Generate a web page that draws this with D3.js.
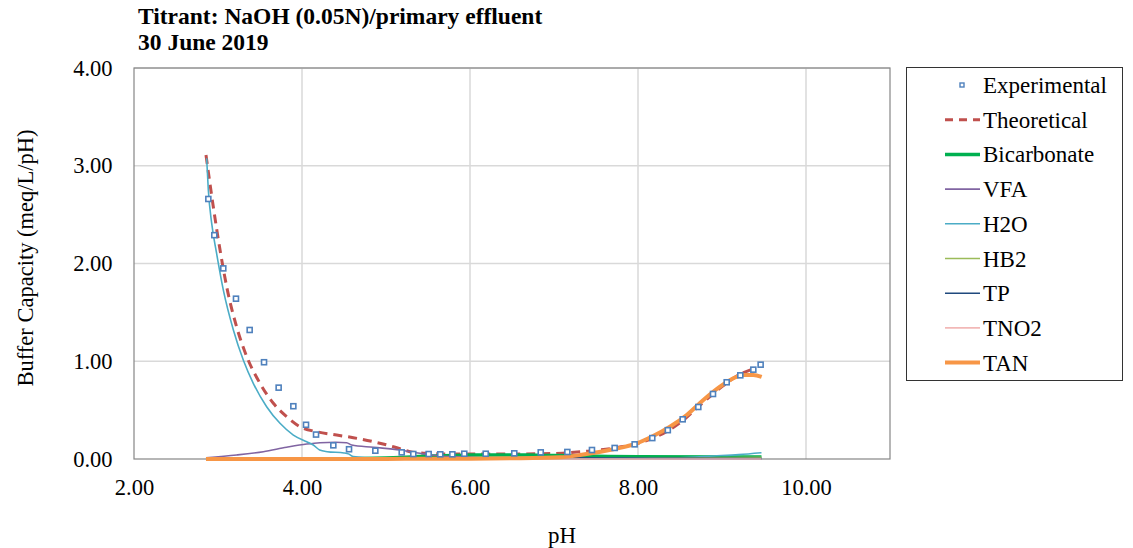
<!DOCTYPE html>
<html>
<head>
<meta charset="utf-8">
<script src="https://cdn.jsdelivr.net/npm/d3@7"></script>
<style>
  body { margin: 0; background: #fff; }
  text { font-family: "Liberation Serif", "Times New Roman", serif; }
</style>
</head>
<body>
<div id="chart"></div>
<script>
// ---- data ----
const xTicks = [2, 4, 6, 8, 10];
const yTicks = [0, 1, 2, 3, 4];
const titleLines = ["Titrant: NaOH (0.05N)/primary effluent", "30 June 2019"];

const experimental = [
  [2.885, 2.66], [2.956, 2.29], [3.063, 1.95], [3.214, 1.64], [3.377, 1.32],
  [3.548, 0.99], [3.722, 0.73], [3.897, 0.54], [4.048, 0.35], [4.167, 0.25],
  [4.373, 0.14], [4.56, 0.10], [4.873, 0.085], [5.187, 0.068], [5.325, 0.051],
  [5.508, 0.051], [5.646, 0.048], [5.79, 0.048], [5.932, 0.054], [6.187, 0.054],
  [6.527, 0.058], [6.842, 0.068], [7.159, 0.072], [7.452, 0.092], [7.722, 0.113],
  [7.96, 0.150], [8.17, 0.214], [8.355, 0.295], [8.532, 0.406], [8.718, 0.532],
  [8.893, 0.665], [9.056, 0.785], [9.218, 0.856], [9.373, 0.914], [9.46, 0.965]
];

const theoretical = [
  [2.857, 3.11], [2.944, 2.58], [3.024, 2.14], [3.104, 1.76], [3.222, 1.35],
  [3.341, 1.05], [3.5, 0.774], [3.659, 0.57], [3.817, 0.433], [3.976, 0.33],
  [4.175, 0.279], [4.413, 0.245], [4.611, 0.218], [4.849, 0.177], [5.087, 0.126],
  [5.286, 0.075], [5.484, 0.058], [5.722, 0.051], [6.36, 0.051], [6.8, 0.053],
  [7.1, 0.06], [7.4, 0.08], [7.7, 0.11], [8.0, 0.16], [8.25, 0.24], [8.5, 0.37],
  [8.75, 0.56], [9.0, 0.74], [9.2, 0.86], [9.4, 0.93]
];

const bicarbonate = [
  [2.857, 0], [4.5, 0.002], [5.0, 0.01], [5.3, 0.02], [5.5, 0.03], [6.0, 0.04],
  [6.3, 0.042], [6.7, 0.04], [7.0, 0.035], [7.5, 0.028], [8.0, 0.022], [9.0, 0.02], [9.47, 0.02]
];

const vfa = [
  [2.857, 0.013], [3.222, 0.041], [3.54, 0.075], [3.817, 0.12], [4.056, 0.153],
  [4.214, 0.167], [4.40, 0.172], [4.532, 0.167], [4.591, 0.143], [4.849, 0.12],
  [5.167, 0.092], [5.405, 0.058], [5.643, 0.031], [5.8, 0.024], [6.2, 0.01],
  [6.6, 0.004], [7.5, 0.001], [9.47, 0]
];

const h2o = [
  [2.865, 3.076], [2.885, 2.75], [2.925, 2.41], [2.984, 2.10], [3.063, 1.73],
  [3.183, 1.32], [3.302, 1.01], [3.42, 0.774], [3.579, 0.535], [3.738, 0.365],
  [3.897, 0.245], [4.056, 0.177], [4.135, 0.143], [4.21, 0.092], [4.3, 0.075],
  [4.5, 0.062], [4.56, 0.05], [4.61, 0.024], [4.75, 0.015], [5.0, 0.012],
  [6.0, 0.008], [7.0, 0.006], [8.0, 0.008], [8.5, 0.013], [8.9, 0.031],
  [9.2, 0.045], [9.47, 0.064]
];

const hb2 = [[2.857, 0], [6.0, 0.002], [7.0, 0.004], [8.0, 0.006], [8.5, 0.01], [9.47, 0.018]];
const tp = [[2.857, 0.003], [5.0, 0.003], [6.0, 0.006], [6.8, 0.01], [7.2, 0.012], [7.8, 0.01], [8.5, 0.006], [9.47, 0.004]];
const tno2 = [[2.857, 0.003], [3.3, 0.004], [4.0, 0.002], [5.0, 0.001], [9.47, 0]];
const tan = [
  [2.857, 0], [4.0, 0], [5.0, 0.001], [6.0, 0.003], [6.5, 0.007], [7.07, 0.018],
  [7.31, 0.04], [7.706, 0.099], [7.984, 0.16], [8.18, 0.235], [8.38, 0.33],
  [8.58, 0.45], [8.778, 0.604], [8.976, 0.74], [9.135, 0.826], [9.254, 0.859],
  [9.373, 0.859], [9.472, 0.839]
];

// line series, in legend order (Experimental is drawn as markers)
const lineSeries = [
  { name: "Theoretical", data: theoretical, color: "#C0504D", width: 3, dash: "9,6" },
  { name: "Bicarbonate", data: bicarbonate, color: "#00B050", width: 3.5 },
  { name: "VFA", data: vfa, color: "#8064A2", width: 1.6 },
  { name: "H2O", data: h2o, color: "#4BACC6", width: 1.6 },
  { name: "HB2", data: hb2, color: "#9BBB59", width: 1.6 },
  { name: "TP", data: tp, color: "#1F497D", width: 1.6 },
  { name: "TNO2", data: tno2, color: "#F2B8B7", width: 1.6 },
  { name: "TAN", data: tan, color: "#F79646", width: 4 }
];

const w = 1133, h = 548;
const margin = { top: 68, right: 243, bottom: 89, left: 134 };
const serif = "'Liberation Serif', 'Times New Roman', serif";

const svg = d3.select("#chart").append("svg")
  .attr("width", w)
  .attr("height", h);

const x = d3.scaleLinear().domain([2, 11]).range([margin.left, w - margin.right]);
const y = d3.scaleLinear().domain([0, 4]).range([h - margin.bottom, margin.top]);

// gridlines
svg.append("g")
  .attr("stroke", "#D9D9D9")
  .attr("stroke-width", 1.5)
  .call(g => g.selectAll(".v").data(xTicks.slice(1)).join("line")
    .attr("x1", d => x(d)).attr("x2", d => x(d))
    .attr("y1", y(4)).attr("y2", y(0)))
  .call(g => g.selectAll(".hz").data(yTicks.slice(1)).join("line")
    .attr("x1", x(2)).attr("x2", x(11))
    .attr("y1", d => y(d)).attr("y2", d => y(d)));

// plot border
svg.append("rect")
  .attr("x", x(2)).attr("y", y(4))
  .attr("width", x(11) - x(2)).attr("height", y(0) - y(4))
  .attr("fill", "none")
  .attr("stroke", "#868686")
  .attr("stroke-width", 1.2);

// axes
svg.append("g")
  .attr("transform", `translate(0,${y(0)})`)
  .call(d3.axisBottom(x).tickValues(xTicks).tickSize(0).tickPadding(20).tickFormat(d3.format(".2f")))
  .call(g => g.select(".domain").remove())
  .call(g => g.selectAll("text").attr("font-size", 22.5).attr("fill", "#000").attr("font-family", serif));

svg.append("g")
  .attr("transform", `translate(${x(2)},0)`)
  .call(d3.axisLeft(y).tickValues(yTicks).tickSize(0).tickPadding(21.5).tickFormat(d3.format(".2f")))
  .call(g => g.select(".domain").remove())
  .call(g => g.selectAll("text").attr("font-size", 22.5).attr("fill", "#000").attr("font-family", serif));

// axis titles
svg.append("text")
  .attr("x", 562).attr("y", 543)
  .attr("text-anchor", "middle")
  .attr("font-size", 23)
  .text("pH");

svg.append("text")
  .attr("transform", "translate(33,258) rotate(-90)")
  .attr("text-anchor", "middle")
  .attr("font-size", 22.5)
  .text("Buffer Capacity (meq/L/pH)");

// chart title, two lines
svg.append("g")
  .selectAll("text")
  .data(titleLines)
  .join("text")
  .attr("x", 138)
  .attr("y", (d, i) => 24 + i * 26)
  .attr("font-size", 23.5)
  .attr("font-weight", "bold")
  .text(d => d);

// lines
const line = d3.line()
  .x(d => x(d[0]))
  .y(d => y(d[1]))
  .curve(d3.curveMonotoneX);

svg.append("g")
  .selectAll("path")
  .data(lineSeries)
  .join("path")
  .attr("d", d => line(d.data))
  .attr("fill", "none")
  .attr("stroke", d => d.color)
  .attr("stroke-width", d => d.width)
  .attr("stroke-dasharray", d => d.dash || null)
  .attr("stroke-linejoin", "round");

// experimental markers
svg.append("g")
  .selectAll("rect")
  .data(experimental)
  .join("rect")
  .attr("x", d => x(d[0]) - 2.5)
  .attr("y", d => y(d[1]) - 2.5)
  .attr("width", 5)
  .attr("height", 5)
  .attr("fill", "#fff")
  .attr("stroke", "#4F81BD")
  .attr("stroke-width", 1.6);

// legend
const legend = svg.append("g");
legend.append("rect")
  .attr("x", 906.5).attr("y", 67.5)
  .attr("width", 216).attr("height", 313)
  .attr("fill", "#fff")
  .attr("stroke", "#333")
  .attr("stroke-width", 1);

const legendItems = [{ name: "Experimental" }].concat(lineSeries);
const ly = i => 85 + i * 34.7;

legendItems.forEach((s, i) => {
  if (s.data) {
    legend.append("line")
      .attr("x1", 945).attr("x2", 980)
      .attr("y1", ly(i)).attr("y2", ly(i))
      .attr("stroke", s.color)
      .attr("stroke-width", s.width)
      .attr("stroke-dasharray", s.dash ? "8,6" : null);
  } else {
    legend.append("rect")
      .attr("x", 960).attr("y", ly(i) - 2)
      .attr("width", 4).attr("height", 4)
      .attr("fill", "#fff")
      .attr("stroke", "#4F81BD")
      .attr("stroke-width", 1.4);
  }
  legend.append("text")
    .attr("x", 983).attr("y", ly(i))
    .attr("dy", "0.35em")
    .attr("font-size", 23)
    .text(s.name);
});
</script>
</body>
</html>
